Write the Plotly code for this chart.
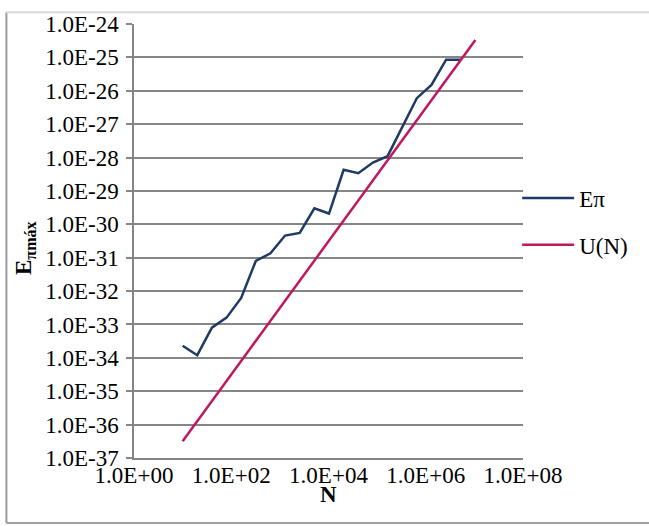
import plotly.graph_objects as go

N = [10, 20, 40, 80, 160, 320, 640, 1280, 2560, 5120, 10240, 20480, 40960,
     81920, 163840, 327680, 655360, 1310720, 2621440, 5242880, 10485760]

E_pi = [2.3e-34, 1.2e-34, 8.0e-34, 1.6e-33, 6.2e-33, 8.0e-32, 1.35e-31, 4.6e-31,
        5.5e-31, 3.0e-30, 2.1e-30, 4.3e-29, 3.4e-29, 7.1e-29, 1.1e-28, 8.5e-28,
        6.0e-27, 1.5e-26, 8.5e-26, 8.5e-26]

U_N = [3.2e-37, 1.28e-36, 5.1e-36, 2.05e-35, 8.2e-35, 3.3e-34, 1.31e-33, 5.2e-33,
       2.1e-32, 8.4e-32, 3.4e-31, 1.34e-30, 5.4e-30, 2.15e-29, 8.6e-29, 3.4e-28,
       1.37e-27, 5.5e-27, 2.2e-26, 8.8e-26, 3.3e-25]

x_tickvals = [1e0, 1e2, 1e4, 1e6, 1e8]
x_ticktext = ["1.0E+00", "1.0E+02", "1.0E+04", "1.0E+06", "1.0E+08"]
y_exps = list(range(-37, -23))
y_tickvals = [10.0 ** e for e in y_exps]
y_ticktext = ["1.0E%03d" % e for e in y_exps]

FONT = "Times New Roman"
NAVY = "#1F3A64"
MAGENTA = "#C0185F"
FS = 23

fig = go.Figure()
fig.add_trace(go.Scatter(x=N[:len(E_pi)], y=E_pi, mode="lines", name="Eπ",
                         line=dict(color=NAVY, width=2.5), legendgroup="a"))
fig.add_trace(go.Scatter(x=N, y=U_N, mode="lines", name="U(N)",
                         line=dict(color=MAGENTA, width=2.5), legendgroup="b"))

fig.update_layout(
    width=649, height=526,
    margin=dict(l=134, r=126, t=18, b=68),
    paper_bgcolor="white", plot_bgcolor="white",
    font=dict(family=FONT, size=FS, color="black"),
    showlegend=True,
    legend=dict(x=0.985, xanchor="left", y=0.545, yanchor="middle",
                traceorder="grouped", tracegroupgap=14, itemwidth=52,
                bgcolor="rgba(0,0,0,0)", font=dict(family=FONT, size=FS)),
    xaxis=dict(type="log", range=[0, 8], tickvals=x_tickvals, ticktext=x_ticktext,
               showgrid=False, zeroline=False, showline=True, linecolor="#868686",
               linewidth=1.5, ticks="", ticklabelstandoff=-4,
               tickfont=dict(family=FONT, size=FS)),
    yaxis=dict(type="log", range=[-37, -24], tickvals=y_tickvals, ticktext=y_ticktext,
               showgrid=True, gridcolor="#868686", gridwidth=1.5, zeroline=False,
               showline=True, linecolor="#868686", linewidth=1.5,
               ticks="outside", ticklen=6, tickcolor="#868686", tickwidth=1.5,
               ticklabelstandoff=3, tickfont=dict(family=FONT, size=FS)),
    annotations=[
        dict(text="<b>N</b>", x=0.5, y=-0.085, xref="paper", yref="paper",
             showarrow=False, font=dict(family=FONT, size=FS), xanchor="center", yanchor="middle"),
        dict(text="<b>E<sub>πmáx</sub></b>", x=-0.28, y=0.484, xref="paper", yref="paper",
             showarrow=False, textangle=-90, font=dict(family=FONT, size=FS),
             xanchor="center", yanchor="middle"),
    ],
    shapes=[
        dict(type="line", xref="paper", yref="paper", x0=-0.328, x1=-0.328, y0=-0.15, y1=1.027,
             line=dict(color="#9a9a9a", width=2)),
        dict(type="line", xref="paper", yref="paper", x0=-0.328, x1=1.34, y0=1.027, y1=1.027,
             line=dict(color="#d9d9d9", width=2)),
        dict(type="line", xref="paper", yref="paper", x0=-0.328, x1=1.34, y0=-0.15, y1=-0.15,
             line=dict(color="#a0a0a0", width=2)),
    ],
)

fig.write_html("out.html")
